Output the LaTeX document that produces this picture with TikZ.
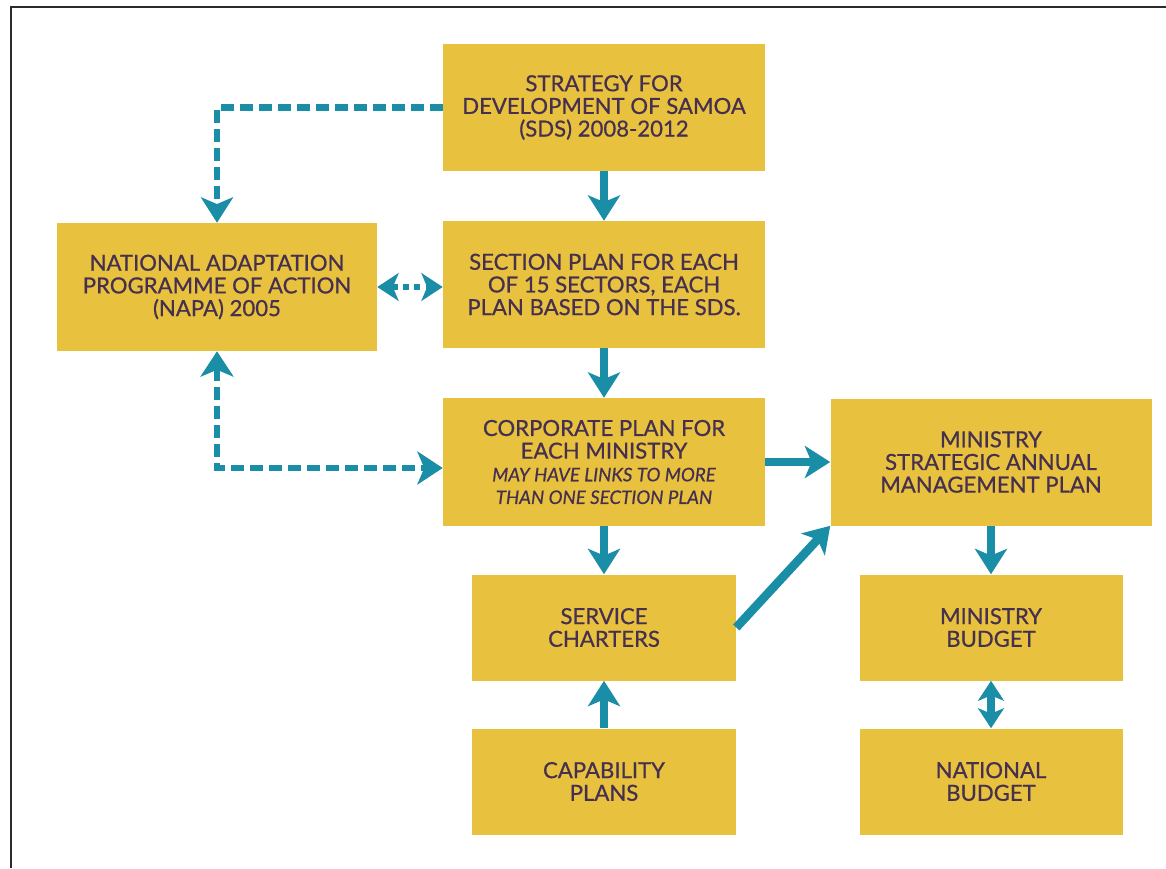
\documentclass[tikz,border=0pt]{standalone}
\usepackage{fontspec}
\setmainfont{Lato}
\newfontfamily\boxfont{Lato}[FakeBold=0.7]
\usetikzlibrary{arrows.meta}
\definecolor{boxgold}{HTML}{E8C23E}
\definecolor{linkteal}{HTML}{1A8EA6}
\definecolor{inkpurple}{HTML}{46304F}
\definecolor{framegray}{HTML}{2B2B2B}
\newcommand\noteline[1]{{\itshape\fontsize{14}{17}\selectfont #1}}
\tikzset{
  planbox/.style={fill=boxgold, text=inkpurple, align=center, inner sep=0pt,
    font=\boxfont\fontsize{16.6}{17}\selectfont},
  bigbox/.style={planbox, minimum width=241.5pt, minimum height=95.25pt},
  smallbox/.style={planbox, minimum width=198pt, minimum height=79.5pt},
  tip/.style={-{Stealth[length=19pt, width=24pt, inset=5pt]}},
  bothtips/.style={{Stealth[length=#1, width=1.3*#1, inset=0.27*#1]}-{Stealth[length=#1, width=1.3*#1, inset=0.27*#1]}},
  flow/.style={draw=linkteal, line width=6.5pt, tip},
  dashflow/.style={draw=linkteal, line width=5pt, dash pattern=on 9.75pt off 4.5pt},
  dotflow/.style={draw=linkteal, line width=4.5pt, dash pattern=on 4.5pt off 4pt}
}
\begin{document}
\begin{tikzpicture}[x=0.75pt, y=-0.75pt]
    \useasboundingbox (0,0) rectangle (1166,868);
    \fill[white] (0,0) rectangle (1166,868);
    \draw[framegray, line width=1.5pt] (11,868) -- (11,7) -- (1166,7);

    \node[bigbox] (sds) at (604,107.5) {STRATEGY FOR\\DEVELOPMENT OF SAMOA\\(SDS) 2008-2012};
    \node[bigbox, minimum width=240pt, minimum height=96pt] (napa) at (217,287) {NATIONAL ADAPTATION\\PROGRAMME OF ACTION\\(NAPA) 2005};
    \node[bigbox] (sect) at (604,284.5) {SECTION PLAN FOR EACH\\OF 15 SECTORS, EACH\\PLAN BASED ON THE SDS.};
    \node[bigbox, minimum height=96pt] (corp) at (604,462) {CORPORATE PLAN FOR\\EACH MINISTRY\\\noteline{MAY HAVE LINKS TO MORE}\\\noteline{THAN ONE SECTION PLAN}};
    \node[bigbox, minimum width=240.75pt] (msamp) at (991,462) {MINISTRY\\STRATEGIC ANNUAL\\MANAGEMENT PLAN};
    \node[smallbox] (serv) at (604,627.5) {SERVICE\\CHARTERS};
    \node[smallbox] (capa) at (604,781.5) {CAPABILITY\\PLANS};
    \node[smallbox, minimum width=197.25pt] (mbud) at (991,627.5) {MINISTRY\\BUDGET};
    \node[smallbox, minimum width=197.25pt] (nbud) at (991,781.5) {NATIONAL\\BUDGET};

    \draw[flow] (sds) -- (sect);
    \draw[flow] (sect) -- (corp);
    \draw[flow] (corp) -- (serv);
    \draw[flow] (capa) -- (serv);
    \draw[flow] (corp) -- (msamp);
    \draw[flow] (serv.east) -- (msamp.south west);
    \draw[flow] (msamp) -- (mbud);
    \draw[draw=linkteal, line width=6pt, bothtips=15pt] (mbud) -- (nbud);

    \draw[dashflow, tip] (sds.west) -| (napa.north);
    \draw[dashflow, bothtips=19pt] (napa.south) |- ([yshift=-4.5pt]corp.west);
    \draw[dotflow, bothtips=16pt] (napa.east) -- (napa.east -| sect.west);
\end{tikzpicture}
\end{document}
